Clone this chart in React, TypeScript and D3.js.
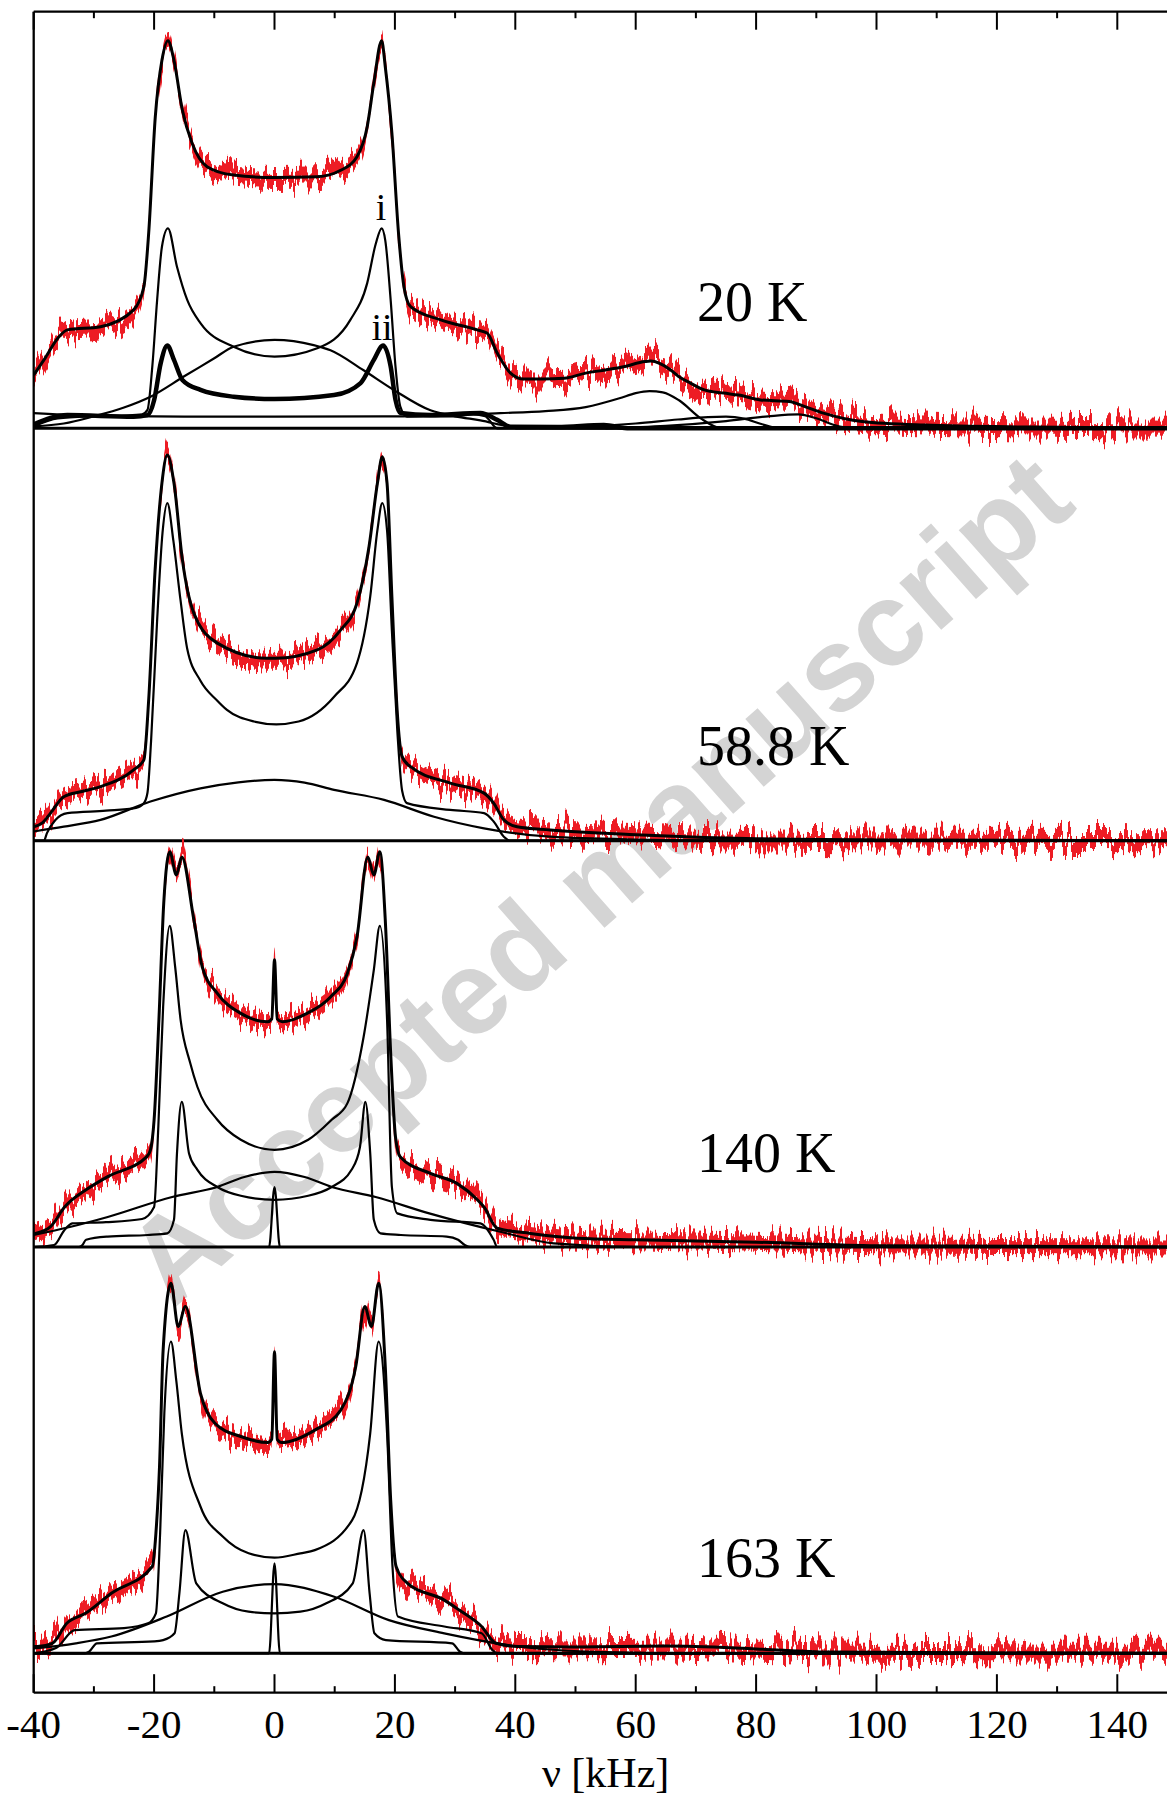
import React from 'react';
import * as d3 from 'd3';

type Pt = [number, number];

// ---------- 20 K ----------
const fit20K: Pt[] = [[-40,13.3],[-38.3,17.1],[-35.8,22.9],[-34.4,24.6],[-28.9,25.4],[-23.4,29.6],[-21.7,35.4],[-20.9,48.8],[-19.8,77.9],[-18.7,92],[-17.7,96.9],[-16.7,92],[-15.3,79.5],[-13.7,71.3],[-11.2,65.4],[-6.8,63.3],[0,62.7],[7.1,62.9],[11,64.5],[13.7,67.9],[15.4,75.4],[16.5,86.3],[17.8,96.9],[18.4,90.4],[19.5,73.8],[20.6,48.8],[21.5,35.4],[22.6,30.4],[27.6,27.1],[33.7,24.6],[35.3,23.8],[37,18.8],[39.2,13.8],[41.4,12.3],[44.6,12.3],[48.1,12.5],[51.7,13.8],[55,14.6],[58,15.4],[61.6,16.7],[62.5,16.8],[65.8,14.6],[67.2,12.9],[69.1,11.3],[71.4,9.6],[74.6,8.8],[77.1,8.3],[80.7,7.1],[85.5,6.7],[88,5.5],[91.2,3.8],[97.6,1.7],[108,0.8],[126,0.3],[150,0]];
const siteI20K: Pt[] = [[-40,0.5],[-36,2.5],[-30,3],[-25,3.2],[-22,3.5],[-21.1,4.6],[-20.3,15.4],[-19.5,32],[-18.7,45.4],[-17.7,50],[-16.2,40.4],[-14.5,32.1],[-12.3,26.3],[-6.8,20.4],[0,17.9],[7.1,20],[12.6,27.1],[15.4,36.3],[16.8,46],[17.8,50],[18.4,47],[19.3,32],[20.1,15.4],[20.9,5.4],[22,2.9],[30,3],[33,3.5],[35,3],[37,0],[150,0]];
const siteII20K: Pt[] = [[-40,1],[-34.4,3.3],[-23.4,2.9],[-21.1,3.3],[-20,7],[-18.9,16.3],[-17.8,20.7],[-16.7,17.1],[-15.3,12.1],[-12.3,9.6],[-6.8,7.9],[0,7.3],[9.9,8.3],[14.3,11.3],[16.5,17.1],[18.05,20.7],[19.3,15.4],[20.1,7.1],[20.9,3.8],[25.9,3.3],[34.2,3.8],[37,2.1],[39.2,0.4],[47,0.3],[54.7,0.8],[59,0],[150,0]];
const broad20K: Pt[] = [[-40,0.5],[-35,1.2],[-30,3],[-25,5.2],[-20.6,7.9],[-15,13],[-10,17.5],[-6.8,20.4],[0,22.1],[6.5,20.8],[9.3,19.5],[14.8,14.5],[19.8,9.6],[25.9,4.5],[30,3],[34.2,2],[40,0.3],[50,0],[150,0]];
const tail62K20: Pt[] = [[-40,3.8],[-30,3.1],[-15,2.9],[0,2.9],[20,3],[37.5,3.8],[45,4.3],[51.7,5.3],[57.3,7.5],[60,8.8],[62.3,9.3],[64.5,9],[67.2,7],[70.8,2.5],[74.3,0],[150,0]];
const tail75K20: Pt[] = [[40,0],[50,0.3],[60,1.2],[67,2.2],[72,2.8],[75,2.9],[78,2.4],[81,1],[84,0],[150,0]];
const tail87K20: Pt[] = [[55,0],[65,0.6],[75,1.8],[82,3],[87,3.5],[90,2.5],[93,0.8],[96,0],[150,0]];

// ---------- 58.8 K ----------
const fit58K: Pt[] = [[-40,3.5],[-38.5,4.5],[-37.2,6.9],[-35,11],[-32,12.3],[-28.9,13.5],[-23.4,17.7],[-21.7,20.2],[-20.9,35.2],[-19.8,68.5],[-18.7,89.4],[-17.8,96.4],[-16.7,89.4],[-15.3,70.2],[-13.4,56.9],[-9.5,49.4],[-1.2,45.6],[0.2,45.6],[7.1,47.7],[11,52.7],[13.7,59.4],[15.7,73.5],[17.1,89.4],[17.9,96],[18.7,89.3],[19.5,61],[20.4,31.9],[21.2,21],[22.6,18.5],[29.2,14.4],[34.8,11.9],[36.4,9.4],[38.1,5.2],[40.3,3.5],[45.8,2.7],[60,1.5],[80,0.5],[100,0.2],[150,0]];
const pake58K: Pt[] = [[-40,0],[-38.3,0],[-37.8,1.9],[-36.4,5.2],[-34.4,6.9],[-28,7.5],[-23,8.2],[-21.7,9.4],[-21.1,12],[-20.5,25],[-19.5,55],[-18.6,77],[-17.8,84.4],[-16.8,75],[-15.6,60],[-14.5,48],[-12.3,40],[-9.5,35],[-7.9,32.7],[-3.4,29.8],[0.3,29.1],[4,29.8],[9.9,36],[13.7,44.4],[15.9,61],[17.1,77.7],[17.9,84.4],[18.7,77.5],[19.5,52.5],[20.4,27.5],[21.2,12.5],[22,9.4],[29.2,7.7],[34.8,6.9],[36.4,4.8],[38.1,1],[39.2,0],[150,0]];
const broad58K: Pt[] = [[-40,2.3],[-35,3.5],[-28.9,5.2],[-20.6,9.8],[-12.3,13.1],[-6,14.6],[0,15.2],[5,14.5],[9.9,12.7],[18.2,10.2],[26.5,6],[34.8,3.1],[45.8,1],[60,0.3],[80,0],[150,0]];

// ---------- 140 K ----------
const fit140K: Pt[] = [[-40,3.3],[-39.7,3.4],[-37.2,5.1],[-34.8,10.1],[-31.3,14.3],[-27.7,17.6],[-21.2,22.6],[-20.6,24.3],[-20,31.8],[-19.2,56.8],[-18.4,85.9],[-17.4,98.8],[-16.3,93],[-15.4,97.5],[-13.4,81.8],[-12,70],[-9.5,63.4],[-5.6,58.4],[-1.2,56.3],[-0.45,57],[0,71.8],[0.45,57],[1.3,56.3],[5.4,58.4],[9.3,62.5],[12.1,68.4],[13.7,77.5],[15.5,97.5],[16.5,93],[17.5,98.8],[18.4,81.8],[19.3,48.4],[20.1,27.5],[20.9,22.5],[25.9,18.4],[30.3,15.9],[33.7,11.8],[34.8,10],[37,4.7],[42.5,3.4],[50.3,2.2],[60,1.8],[70,1.5],[80,1.2],[100,0.3],[150,0]];
const pakeA140K: Pt[] = [[-40,0],[-36.6,0.5],[-35,4],[-33.6,5.9],[-28,6.2],[-22,7],[-20,10],[-19.3,30],[-18.5,60],[-17.4,80.3],[-16.5,70],[-15.6,56.8],[-14,46],[-12.8,40],[-9.5,31.8],[-5.6,26.8],[0,24.3],[5.6,26.8],[9.5,31.8],[12.1,35.9],[14.8,52.5],[16.5,69.3],[17.5,80.3],[18.7,56.8],[19.5,15],[20.4,8.4],[25.9,6.8],[34.2,5.9],[36.4,1.8],[37,0],[150,0]];
const pakeB140K: Pt[] = [[-40,0],[-32.5,0],[-31.9,0.5],[-31.3,1.8],[-27.7,2.6],[-21.1,3],[-17.8,3.4],[-16.7,6.8],[-16.2,23.4],[-15.4,36.3],[-14.2,23.4],[-12.8,19.3],[-9.5,15],[-5.6,12.8],[0,11.8],[5.6,12.8],[9.5,15],[12.8,19.3],[14.2,25],[15.1,36.3],[15.9,23.4],[16.5,6.8],[17.6,3.4],[21,3],[28.6,2.6],[30.5,1.8],[31.6,0.5],[32.5,0],[150,0]];
const broad140K: Pt[] = [[-40,3],[-34,5],[-27.7,7.5],[-17,12.5],[-9.5,15],[-5,17.5],[0,18.8],[5,17.5],[9.5,15],[16.8,12.5],[25.7,8.4],[37.5,3.8],[46.4,0.9],[60,0],[150,0]];
const spike140K: Pt[] = [[-40,0],[-0.9,0],[0,15],[0.9,0],[150,0]];

// ---------- 163 K ----------
const fit163K: Pt[] = [[-40,1.7],[-39.4,1.7],[-36.9,2.5],[-34.5,7.5],[-31.4,10],[-27.1,15],[-20.3,21.7],[-19.7,30],[-19.1,46.7],[-18.5,75.8],[-17.2,92.5],[-16,81.7],[-14.8,86.7],[-12.3,65],[-9.9,57.5],[-5.6,54.2],[-1.1,52.7],[-0.45,53.5],[0,75.4],[0.45,53.5],[1.2,52.7],[6.7,55.8],[11,60.8],[13.5,71.7],[15,86.7],[16.1,81.7],[17.3,92.5],[18.4,71.7],[19.3,38.3],[20.2,21.7],[22.1,17.5],[28.2,13.3],[30.7,10.8],[34.4,6.7],[36.8,2.5],[40.5,1.7],[50,1.6],[65,1.8],[80,1.1],[92,0.3],[150,0]];
const pakeA163K: Pt[] = [[-40,0],[-36.3,1.3],[-33.2,5.8],[-25,6.3],[-21,7.5],[-19.7,10],[-19,30],[-18.3,60],[-17.2,77.9],[-16.3,68],[-15.4,55],[-12.3,36.7],[-8.6,29.2],[-4.3,25],[0,23.9],[4.3,25],[6.7,25.8],[12.9,33.3],[15.9,55],[17.3,77.9],[18.7,55],[19.6,21.7],[20.5,9.2],[28.2,6.7],[34.4,5],[36.2,0.8],[37,0],[150,0]];
const pakeB163K: Pt[] = [[-40,0],[-31.5,0],[-30.8,0.4],[-29.5,2.5],[-20,3],[-18.5,3.3],[-16.6,5],[-15.8,15],[-14.8,30.8],[-13,17.5],[-8.6,12.5],[-4.3,10.4],[0,10],[4.3,10.4],[8.6,12.5],[13,17.5],[14.8,30.8],[15.8,15],[16.6,5],[18.5,3.3],[29.5,2.5],[30.8,0.4],[31.5,0],[150,0]];
const broad163K: Pt[] = [[-40,1.2],[-33,2.5],[-27.1,4.2],[-17.9,9.2],[-8.6,15.4],[0,17.3],[9.8,14.2],[19,8.3],[28.2,5],[40.5,1.7],[55,0.3],[70,0],[150,0]];
const spike163K: Pt[] = [[-40,0],[-0.9,0],[0,22.5],[0.9,0],[150,0]];

// ---------- axis ----------
const majorTicks = [-40, -20, 0, 20, 40, 60, 80, 100, 120, 140];
const minorTicks = [-30, -10, 10, 30, 50, 70, 90, 110, 130];
const tickLabels = ['-40', '-20', '0', '20', '40', '60', '80', '100', '120', '140'];
const temperatureLabels = ['20 K', '58.8 K', '140 K', '163 K'];
const xTitle = 'ν [kHz]';

const W = 1167;
const H = 1798;
const L = 33.7, T = 11.7, B = 1692.7, R = 1177.5;
const RED = '#ed1c24';
const SERIF = '"Liberation Serif", "Times New Roman", serif';
const BAND = 7.5; // half-thickness (px) of the noisy measured trace

const x = d3.scaleLinear().domain([-40, 150]).range([L, R]);

type Comp = { data: Pt[]; w: number };
const panels: { label: string; base: number; labelY: number; fit: Pt[]; comps: Comp[] }[] = [
  { label: temperatureLabels[0], base: 428.3, labelY: 320.7, fit: fit20K,
    comps: [{ data: siteI20K, w: 2.2 }, { data: siteII20K, w: 4.5 }, { data: broad20K, w: 2.2 }, { data: tail62K20, w: 2.2 }, { data: tail75K20, w: 2.2 }, { data: tail87K20, w: 2.2 }] },
  { label: temperatureLabels[1], base: 840.7, labelY: 765, fit: fit58K,
    comps: [{ data: pake58K, w: 2.2 }, { data: broad58K, w: 2.2 }] },
  { label: temperatureLabels[2], base: 1247, labelY: 1172, fit: fit140K,
    comps: [{ data: pakeA140K, w: 2.2 }, { data: pakeB140K, w: 2.2 }, { data: broad140K, w: 2.2 }, { data: spike140K, w: 2.2 }] },
  { label: temperatureLabels[3], base: 1653.3, labelY: 1577, fit: fit163K,
    comps: [{ data: pakeA163K, w: 2.2 }, { data: pakeB163K, w: 2.2 }, { data: broad163K, w: 2.2 }, { data: spike163K, w: 2.2 }] },
];

export default function App() {
  return (
    <svg width={W} height={H} style={{ position: 'absolute', left: 0, top: 0, background: '#fff' }}>
      <defs>
        <filter id="noisy" x="-2%" y="-30%" width="104%" height="160%" colorInterpolationFilters="sRGB">
          <feTurbulence type="fractalNoise" baseFrequency="0.28 0.004" numOctaves={2} seed={7} result="t" />
          <feColorMatrix in="t" type="matrix" values="0 0 0 0 0.5  0 1 0 0 0  0 0 0 0 0  0 0 0 0 1" result="m" />
          <feDisplacementMap in="SourceGraphic" in2="m" scale={44} xChannelSelector="R" yChannelSelector="G" />
        </filter>
        <clipPath id="plotClip">
          <rect x={L} y={T} width={R - L} height={B - T} />
        </clipPath>
      </defs>
      <rect x={0} y={0} width={W} height={H} fill="#fff" />
      <text x={598} y={878} transform="rotate(-41.5 598 878)" textAnchor="middle" dominantBaseline="central"
        fontFamily='"Liberation Sans", Arial, sans-serif' fontWeight="bold" fontSize={119} fill="#d4d4d4">
        Accepted manuscript
      </text>
      <g clipPath="url(#plotClip)">
        {panels.map((p, i) => {
          const y = d3.scaleLinear().domain([0, 100]).range([p.base, p.base - 400]);
          const line = d3.line<Pt>().x(d => x(d[0])).y(d => y(d[1])).curve(d3.curveMonotoneX);
          const band = d3.area<Pt>().x(d => x(d[0])).y0(d => y(d[1]) + BAND).y1(d => y(d[1]) - BAND).curve(d3.curveMonotoneX);
          return (
            <g key={i}>
              <path d={band(p.fit) || ''} fill={RED} stroke="none" filter="url(#noisy)" />
              <line x1={x(-40)} x2={x(150)} y1={y(0)} y2={y(0)} stroke="#000" strokeWidth={3} />
              {p.comps.map((c, j) => (
                <path key={j} d={line(c.data) || ''} fill="none" stroke="#000" strokeWidth={c.w} strokeLinejoin="round" />
              ))}
              <path d={line(p.fit) || ''} fill="none" stroke="#000" strokeWidth={3} strokeLinejoin="round" />
            </g>
          );
        })}
      </g>
      {panels.map((p, i) => (
        <text key={i} x={697} y={p.labelY} fontFamily={SERIF} fontSize={56} fill="#000">{p.label}</text>
      ))}
      <text x={381} y={220} textAnchor="middle" fontFamily={SERIF} fontSize={38}>i</text>
      <text x={382} y={340} textAnchor="middle" fontFamily={SERIF} fontSize={38}>ii</text>
      {/* frame */}
      <line x1={L} x2={L} y1={T} y2={B} stroke="#000" strokeWidth={2.3} />
      <line x1={L} x2={W} y1={T} y2={T} stroke="#000" strokeWidth={2.3} />
      <line x1={L} x2={W} y1={B} y2={B} stroke="#000" strokeWidth={2.3} />
      {majorTicks.map(t => (
        <g key={'M' + t}>
          <line x1={x(t)} x2={x(t)} y1={T} y2={T + 18} stroke="#000" strokeWidth={2} />
          <line x1={x(t)} x2={x(t)} y1={B} y2={B - 18.5} stroke="#000" strokeWidth={2} />
        </g>
      ))}
      {minorTicks.map(t => (
        <g key={'m' + t}>
          <line x1={x(t)} x2={x(t)} y1={T} y2={T + 6.5} stroke="#000" strokeWidth={2} />
          <line x1={x(t)} x2={x(t)} y1={B} y2={B - 6.5} stroke="#000" strokeWidth={2} />
        </g>
      ))}
      {majorTicks.map((t, i) => (
        <text key={'l' + t} x={x(t)} y={1738} textAnchor="middle" fontFamily={SERIF} fontSize={41}>{tickLabels[i]}</text>
      ))}
      <text x={(L + R) / 2} y={1787} textAnchor="middle" fontFamily={SERIF} fontSize={42}>{xTitle}</text>
    </svg>
  );
}
